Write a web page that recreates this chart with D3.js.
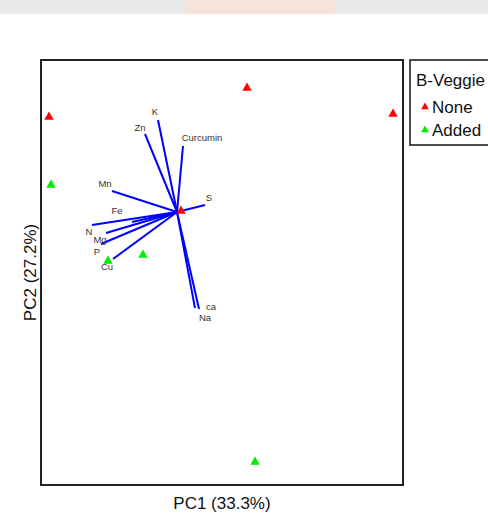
<!DOCTYPE html>
<html>
<head>
<meta charset="utf-8">
<script src="https://cdn.jsdelivr.net/npm/d3@7"></script>
<style>
  body { margin: 0; background: #fff; }
  svg { display: block; font-family: "Liberation Sans", Arial, sans-serif; }
</style>
</head>
<body>
<script>
// sample scores (PC1, PC2) and group
var scoreX = [-2.56, 1.40, 4.32, 0.08, -2.52, -0.68, -1.38, 1.56];
var scoreY = [1.90, 2.48, 1.96, 0.02, 0.54, -0.86, -0.98, -5.00];
var scoreGroup = ["None", "None", "None", "None", "Added", "Added", "Added", "Added"];

// variable loadings (arrow tips) and their label spots
var varNames = ["K", "Zn", "Curcumin", "Mn", "S", "Fe", "N", "Mg", "P", "Cu", "ca", "Na"];
var loadX = [-0.38, -0.64, 0.12, -1.30, 0.56, -0.90, -1.70, -1.42, -1.52, -1.28, 0.44, 0.36];
var loadY = [1.84, 1.56, 1.32, 0.42, 0.14, -0.20, -0.26, -0.42, -0.64, -0.94, -1.94, -1.92];
var labelX = [-0.44, -0.74, 0.50, -1.44, 0.64, -1.20, -1.76, -1.54, -1.60, -1.40, 0.68, 0.56];
var labelY = [2.00, 1.68, 1.48, 0.56, 0.28, 0.02, -0.40, -0.56, -0.80, -1.10, -1.90, -2.12];

var groups = ["None", "Added"];
var groupColors = ["#ff0000", "#00ee00"];

var width = 488, height = 516;
var svg = d3.select("body").append("svg")
	.attr("width", width)
	.attr("height", height);

// faint banner strip at the very top
svg.append("rect")
	.attr("x", 0).attr("y", 0)
	.attr("width", width).attr("height", 14)
	.style("fill", "#e9e9e9");
svg.append("rect")
	.attr("x", 185).attr("y", 0)
	.attr("width", 150).attr("height", 14)
	.style("fill", "#f6e3da");

var panel = {left: 41, top: 60, right: 403, bottom: 485};

var x = d3.scaleLinear().domain([-2.72, 4.52]).range([panel.left, panel.right]);
var y = d3.scaleLinear().domain([-5.46, 3.04]).range([panel.bottom, panel.top]);
var color = d3.scaleOrdinal().domain(groups).range(groupColors);
var tri = d3.symbol().type(d3.symbolTriangle).size(38);

svg.append("rect")
	.attr("x", panel.left).attr("y", panel.top)
	.attr("width", panel.right - panel.left)
	.attr("height", panel.bottom - panel.top)
	.style("fill", "none")
	.style("stroke", "#222")
	.style("stroke-width", 2);

// arrows
svg.append("g").selectAll("line")
	.data(varNames)
	.enter().append("line")
	.attr("x1", x(0)).attr("y1", y(0))
	.attr("x2", function(d, i) { return x(loadX[i]); })
	.attr("y2", function(d, i) { return y(loadY[i]); })
	.style("stroke", "#0000ff")
	.style("stroke-width", 2);

svg.append("g").selectAll("text")
	.data(varNames)
	.enter().append("text")
	.attr("x", function(d, i) { return x(labelX[i]); })
	.attr("y", function(d, i) { return y(labelY[i]); })
	.attr("dy", "0.35em")
	.attr("text-anchor", "middle")
	.style("font-size", "9.5px")
	.style("fill", "#333")
	.text(function(d) { return d; });

// samples
svg.append("g").selectAll("path")
	.data(scoreX)
	.enter().append("path")
	.attr("d", tri)
	.attr("transform", function(d, i) { return "translate(" + x(d) + "," + y(scoreY[i]) + ")"; })
	.style("fill", function(d, i) { return color(scoreGroup[i]); });

// axis titles
svg.append("text")
	.attr("x", (panel.left + panel.right) / 2)
	.attr("y", 509)
	.attr("text-anchor", "middle")
	.style("font-size", "17px")
	.style("fill", "#111")
	.text("PC1 (33.3%)");

svg.append("text")
	.attr("transform", "translate(36," + ((panel.top + panel.bottom) / 2) + ") rotate(-90)")
	.attr("text-anchor", "middle")
	.style("font-size", "17px")
	.style("fill", "#111")
	.text("PC2 (27.2%)");

// legend
var legend = svg.append("g").attr("transform", "translate(410,60)");
legend.append("rect")
	.attr("width", 100).attr("height", 85)
	.style("fill", "#fff")
	.style("stroke", "#111")
	.style("stroke-width", 1.5);
legend.append("text")
	.attr("x", 6).attr("y", 26)
	.style("font-size", "17px")
	.style("fill", "#111")
	.text("B-Veggie");
var item = legend.selectAll(".item")
	.data(groups)
	.enter().append("g")
	.attr("class", "item")
	.attr("transform", function(d, i) { return "translate(0," + (47 + i * 23) + ")"; });
item.append("path")
	.attr("d", d3.symbol().type(d3.symbolTriangle).size(26))
	.attr("transform", "translate(15,0)")
	.style("fill", function(d) { return color(d); });
item.append("text")
	.attr("x", 22).attr("y", 0)
	.attr("dy", "0.35em")
	.style("font-size", "17px")
	.style("fill", "#111")
	.text(function(d) { return d; });
</script>
</body>
</html>
